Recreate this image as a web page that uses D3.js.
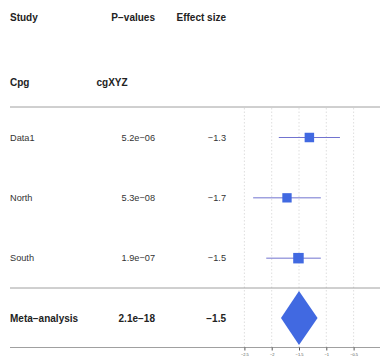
<!DOCTYPE html>
<html>
<head>
<meta charset="utf-8">
<script src="https://cdn.jsdelivr.net/npm/d3@7"></script>
<style>
  body { margin: 0; background: #fff; }
  svg { display: block; font-family: "Liberation Sans", Arial, sans-serif; }
</style>
</head>
<body>
<div id="chart"></div>
<script>
// Data
const studies = ["Data1", "North", "South"];
const pValues = ["5.2e\u221206", "5.3e\u221208", "1.9e\u221207"];
const effects = [-1.31, -1.72, -1.51];
const lower = [-1.87, -2.34, -2.10];
const upper = [-0.75, -1.10, -1.10];
const weights = [31, 30, 38];

const metaLabel = "Meta\u2212analysis";
const metaP = "2.1e\u221218";
const metaEffect = -1.5;
const metaLower = -1.83;
const metaUpper = -1.16;

const xTicks = [-2.5, -2, -1.5, -1, -0.5];

const width = 380;
const height = 358;

const svg = d3.select("#chart")
    .append("svg")
    .attr("width", width)
    .attr("height", height);

// Scales
const x = d3.scaleLinear()
    .domain([-2.5, -0.5])
    .range([244.4, 353.6]);

const rows = [...studies, metaLabel];
const y = d3.scalePoint()
    .domain(rows)
    .range([137.5, 318.5]);

const boxSize = d3.scaleSqrt()
    .domain([0, 38])
    .range([0, 10.5]);

const fmt = v => (v < 0 ? "\u2212" : "") + Math.abs(v).toFixed(1);

// Vertical dotted grid lines
svg.append("g")
    .selectAll("line")
    .data(xTicks)
    .join("line")
    .attr("x1", d => x(d))
    .attr("x2", d => x(d))
    .attr("y1", 108)
    .attr("y2", 347)
    .attr("stroke", "#d6d6d6")
    .attr("stroke-width", 0.8)
    .attr("stroke-dasharray", "1.5,2");

// Horizontal rules
svg.append("g")
    .selectAll("line")
    .data([107, 288, 347.5])
    .join("line")
    .attr("x1", 10)
    .attr("x2", width)
    .attr("y1", d => d)
    .attr("y2", d => d)
    .attr("stroke", "#a0a0a0")
    .attr("stroke-width", 1);

// Header text
const header = svg.append("g")
    .attr("font-size", 10)
    .attr("font-weight", "bold")
    .attr("fill", "#222");

header.append("text").attr("x", 10).attr("y", 17.5).attr("dy", "0.35em").text("Study");
header.append("text").attr("x", 155).attr("y", 17.5).attr("dy", "0.35em").attr("text-anchor", "end").text("P\u2212values");
header.append("text").attr("x", 226).attr("y", 17.5).attr("dy", "0.35em").attr("text-anchor", "end").text("Effect size");
header.append("text").attr("x", 10).attr("y", 82).attr("dy", "0.35em").text("Cpg");
header.append("text").attr("x", 96.5).attr("y", 82).attr("dy", "0.35em").text("cgXYZ");

// Study rows text
const rowText = svg.append("g")
    .attr("font-size", 9.2)
    .attr("fill", "#333");

rowText.selectAll(".study")
    .data(studies)
    .join("text")
    .attr("x", 10)
    .attr("y", d => y(d))
    .attr("dy", "0.35em")
    .text(d => d);

rowText.selectAll(".pval")
    .data(studies)
    .join("text")
    .attr("x", 155)
    .attr("y", d => y(d))
    .attr("dy", "0.35em")
    .attr("text-anchor", "end")
    .text((d, i) => pValues[i]);

rowText.selectAll(".eff")
    .data(studies)
    .join("text")
    .attr("x", 226)
    .attr("y", d => y(d))
    .attr("dy", "0.35em")
    .attr("text-anchor", "end")
    .text((d, i) => fmt(effects[i]));

// Meta row text
const metaText = svg.append("g")
    .attr("font-size", 10)
    .attr("font-weight", "bold")
    .attr("fill", "#222");

metaText.append("text").attr("x", 10).attr("y", y(metaLabel)).attr("dy", "0.35em").text(metaLabel);
metaText.append("text").attr("x", 155).attr("y", y(metaLabel)).attr("dy", "0.35em").attr("text-anchor", "end").text(metaP);
metaText.append("text").attr("x", 226).attr("y", y(metaLabel)).attr("dy", "0.35em").attr("text-anchor", "end").text(fmt(metaEffect));

// Confidence intervals
svg.append("g")
    .selectAll("line")
    .data(studies)
    .join("line")
    .attr("x1", (d, i) => x(lower[i]))
    .attr("x2", (d, i) => x(upper[i]))
    .attr("y1", d => y(d))
    .attr("y2", d => y(d))
    .attr("stroke", "#7173cf")
    .attr("stroke-width", 1);

// Point estimate boxes
svg.append("g")
    .selectAll("rect")
    .data(studies)
    .join("rect")
    .attr("x", (d, i) => x(effects[i]) - boxSize(weights[i]) / 2)
    .attr("y", (d, i) => y(d) - boxSize(weights[i]) / 2)
    .attr("width", (d, i) => boxSize(weights[i]))
    .attr("height", (d, i) => boxSize(weights[i]))
    .attr("fill", "#4169e1");

// Summary diamond
const my = 318;
const halfH = 27;
svg.append("path")
    .attr("d", `M${x(metaLower)},${my} L${x(metaEffect)},${my - halfH} L${x(metaUpper)},${my} L${x(metaEffect)},${my + halfH} Z`)
    .attr("fill", "#4169e1");

// Bottom axis (ticks and labels only; rule drawn above)
const axis = svg.append("g")
    .attr("transform", "translate(0,347.5)")
    .call(d3.axisBottom(x).tickValues(xTicks).tickSize(3).tickPadding(2.5).tickFormat(d => (d < 0 ? "\u2212" : "") + Math.abs(d)));

axis.select(".domain").remove();
axis.selectAll(".tick line").attr("stroke", "#555");
axis.selectAll(".tick text")
    .attr("font-size", 4)
    .attr("font-family", "Liberation Sans, Arial, sans-serif")
    .attr("fill", "#555");
</script>
</body>
</html>
